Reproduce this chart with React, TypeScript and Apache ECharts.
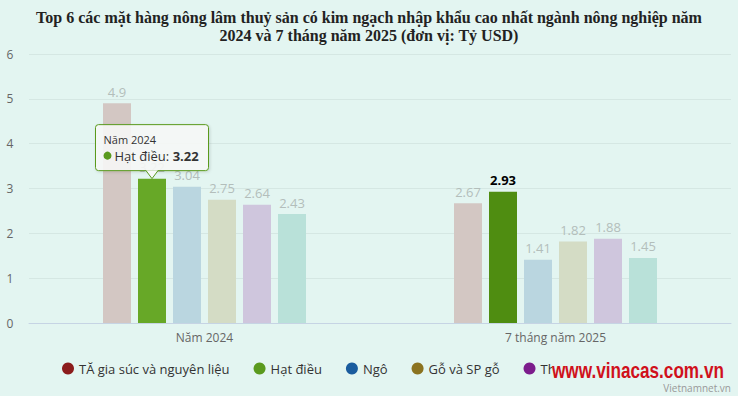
import React, { useEffect, useRef } from "react";
import * as echarts from "echarts";

const categories = ["Năm 2024", "7 tháng năm 2025"];
const seriesNames = ["TĂ gia súc và nguyên liệu", "Hạt điều", "Ngô", "Gỗ và SP gỗ", "Thủy sản", "Cao su"];
const values2024 = [4.9, 3.22, 3.04, 2.75, 2.64, 2.43];
const values2025 = [2.67, 2.93, 1.41, 1.82, 1.88, 1.45];
const yTicks = [0, 1, 2, 3, 4, 5, 6];

const legendColors = ["#8b1c1c", "#5a9a1e", "#1a5c9e", "#8b7320", "#7c1c8c", "#1b8a78"];
const fadedColors = ["#d3c7c3", "#4f8d11", "#bad6e0", "#d4dcc5", "#cfc6dd", "#b9e1d9"];
const HIGHLIGHT = 1;
const BG = "#e3f5f1";
const BAR_W = 28;
const BAR_GAP = 7;
const FADED_LABEL = "#b3bebb";

export default function App() {
  const ref = useRef<HTMLDivElement>(null);
  useEffect(() => {
    document.body.style.margin = "0";
    const chart = echarts.init(ref.current!, null, { renderer: "svg" });
    const series = seriesNames.map((name, i) => {
      const data = [values2024[i], values2025[i]].map((v, j) => {
        if (i === HIGHLIGHT) {
          if (j === 0) {
            return { value: v, itemStyle: { color: "#67a827" }, label: { color: FADED_LABEL } };
          }
          return { value: v, label: { color: "#000", fontWeight: "bold" } };
        }
        return { value: v };
      });
      return {
        name,
        type: "bar",
        barWidth: BAR_W,
        barGap: (BAR_GAP / BAR_W) * 100 + "%",
        data,
        z: 2,
        itemStyle: { color: fadedColors[i] },
        label: {
          show: true,
          position: "top",
          distance: 5,
          fontSize: 13,
          fontFamily: "Open Sans",
          color: FADED_LABEL,
        },
      };
    });
    chart.setOption({
      animation: false,
      backgroundColor: BG,
      title: {
        text: "Top 6 các mặt hàng nông lâm thuỷ sản có kim ngạch nhập khẩu cao nhất ngành nông nghiệp năm\n2024 và 7 tháng năm 2025 (đơn vị: Tỷ USD)",
        left: "center",
        top: 3,
        textStyle: {
          fontFamily: "Liberation Serif",
          fontWeight: "bold",
          fontSize: 16,
          lineHeight: 18,
          color: "#222",
        },
      },
      legend: {
        left: 57,
        top: 357,
        icon: "circle",
        itemWidth: 12,
        itemHeight: 12,
        itemGap: 24,
        textStyle: { fontFamily: "Open Sans", fontSize: 13, color: "#333" },
        data: seriesNames.map((n, i) => ({ name: n, itemStyle: { color: legendColors[i] } })),
      },
      grid: { left: 29, right: 7, top: 54, bottom: 73 },
      xAxis: {
        type: "category",
        data: categories,
        axisLine: { lineStyle: { color: "#c6d4e4" } },
        axisTick: { show: false },
        axisLabel: { color: "#666", fontSize: 12, fontFamily: "Open Sans", margin: 8 },
      },
      yAxis: {
        type: "value",
        min: yTicks[0],
        max: yTicks[yTicks.length - 1],
        interval: 1,
        axisLabel: { color: "#666", fontSize: 12, fontFamily: "Open Sans", margin: 19, align: "center" },
        splitLine: { lineStyle: { color: "#d5e7e3" } },
      },
      series,
    });

    // tooltip callout for highlighted bar
    const p = chart.convertToPixel({ gridIndex: 0 }, [0, values2024[HIGHLIGHT]]) as number[];
    const total = seriesNames.length * BAR_W + (seriesNames.length - 1) * BAR_GAP;
    const bx = p[0] - total / 2 + HIGHLIGHT * (BAR_W + BAR_GAP) + BAR_W / 2;
    const tipY = p[1];
    const W = 113;
    const H = 46;
    const gx = bx - W / 2;
    const gy = tipY - H - 8;
    const fill = "rgba(248,249,248,0.88)";
    const Z = 100;
    chart.setOption({
      graphic: [
        {
          type: "group",
          x: gx,
          y: gy,
          z: Z,
          children: [
            {
              type: "rect",
              z: Z,
              shape: { x: 0, y: 0, width: W, height: H, r: 3 },
              style: {
                fill,
                stroke: legendColors[HIGHLIGHT],
                lineWidth: 1,
                shadowBlur: 3,
                shadowColor: "rgba(0,0,0,0.15)",
                shadowOffsetX: 1,
                shadowOffsetY: 1,
              },
            },
            {
              type: "polygon",
              z: Z + 1,
              shape: { points: [[W / 2 - 6, H - 0.5], [W / 2, H + 8], [W / 2 + 6, H - 0.5]] },
              style: { fill: "rgb(248,249,248)" },
            },
            {
              type: "polyline",
              z: Z + 2,
              shape: { points: [[W / 2 - 6, H], [W / 2, H + 8], [W / 2 + 6, H]] },
              style: { stroke: legendColors[HIGHLIGHT], lineWidth: 1, fill: null },
            },
            {
              type: "text",
              z: Z + 2,
              x: 8,
              y: 15,
              style: {
                text: categories[0],
                fontSize: 11,
                fontFamily: "Open Sans",
                fill: "#333",
                verticalAlign: "middle",
              },
            },
            {
              type: "circle",
              z: Z + 2,
              shape: { cx: 12, cy: 31, r: 4 },
              style: { fill: legendColors[HIGHLIGHT] },
            },
            {
              type: "text",
              z: Z + 2,
              x: 19,
              y: 31,
              style: {
                text: "{a|" + seriesNames[HIGHLIGHT] + ": }{b|" + values2024[HIGHLIGHT] + "}",
                verticalAlign: "middle",
                rich: {
                  a: { fontSize: 13, fontFamily: "Open Sans", fill: "#333", color: "#333" },
                  b: { fontSize: 13, fontFamily: "Open Sans", fontWeight: "bold", fill: "#333", color: "#333" },
                },
              },
            },
          ],
        },
        {
          type: "rect",
          z: Z,
          shape: { x: 552, y: 356, width: 180, height: 26 },
          style: { fill: BG },
        },
        {
          type: "text",
          z: Z + 1,
          x: 552,
          y: 370,
          scaleX: 0.78,
          style: {
            text: "www.vinacas.com.vn",
            fontFamily: "Liberation Sans",
            fontWeight: "bold",
            fontSize: 22,
            fill: "#d0111b",
            verticalAlign: "middle",
          },
        },
        {
          type: "text",
          z: Z + 1,
          right: 7,
          top: 383,
          style: {
            text: "Vietnamnet.vn",
            fontFamily: "Open Sans",
            fontSize: 10,
            fill: "#999",
          },
        },
      ],
    });
    return () => chart.dispose();
  }, []);
  return <div ref={ref} style={{ width: 738, height: 396 }} />;
}
